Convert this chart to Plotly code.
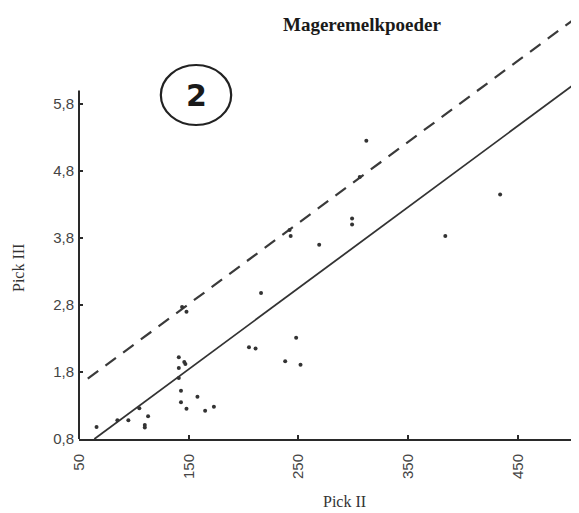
import plotly.graph_objects as go

# Scatter data (Pick II vs Pick III)
pick2 = [66, 85, 95, 105, 113, 110, 110, 141, 146, 147, 141, 141, 143, 143, 148, 158, 165, 173,
         205, 211, 148, 144, 216, 248, 238, 252, 242, 243, 269, 299, 299, 306, 312, 384, 434]
pick3 = [0.98, 1.08, 1.08, 1.26, 1.14, 1.01, 0.97, 2.02, 1.95, 1.92, 1.86, 1.71, 1.52, 1.35, 1.25, 1.43, 1.22, 1.28,
         2.17, 2.15, 2.70, 2.77, 2.98, 2.31, 1.96, 1.91, 3.92, 3.83, 3.70, 4.09, 4.00, 4.71, 5.25, 3.83, 4.45]

# Reference lines
solid_x = [64, 502]
solid_y = [0.80, 6.10]
dashed_x = [58, 501]
dashed_y = [1.70, 7.06]

# Axis ticks
x_ticks = [50, 150, 250, 350, 450]
x_ticklabels = ["50", "150", "250", "350", "450"]
y_ticks = [0.8, 1.8, 2.8, 3.8, 4.8, 5.8]
y_ticklabels = ["0,8", "1,8", "2,8", "3,8", "4,8", "5,8"]

fig = go.Figure()
fig.add_trace(go.Scatter(x=dashed_x, y=dashed_y, mode="lines",
                         line=dict(color="#3a3a3a", width=2.2, dash="13px,9px"), hoverinfo="skip"))
fig.add_trace(go.Scatter(x=solid_x, y=solid_y, mode="lines",
                         line=dict(color="#333333", width=1.8), hoverinfo="skip"))
fig.add_trace(go.Scatter(x=pick2, y=pick3, mode="markers",
                         marker=dict(color="#333333", size=4)))

fig.update_layout(
    width=579, height=513,
    margin=dict(l=71, r=9, t=0, b=82),
    paper_bgcolor="white", plot_bgcolor="white",
    showlegend=False,
    font=dict(family="Liberation Sans, Arial, sans-serif", color="#444444", size=14),
)
fig.update_xaxes(range=[50, 505], showgrid=False, zeroline=False, automargin=False,
                 showline=True, linecolor="#2a2a2a", linewidth=2,
                 tickvals=x_ticks, ticktext=x_ticklabels, tickangle=-90,
                 ticks="inside", ticklen=4, tickcolor="#2a2a2a", tickwidth=1.5,
                 ticklabelstandoff=7,
                 tickfont=dict(size=15, color="#444444"))
fig.update_yaxes(range=[0.8, 7.233], showgrid=False, zeroline=False, showline=False, automargin=False,
                 tickvals=y_ticks, ticktext=y_ticklabels,
                 ticks="inside", ticklen=4, tickcolor="#2a2a2a", tickwidth=1.5,
                 ticklabelstandoff=4,
                 tickfont=dict(size=15, color="#444444"))

# y axis line only up to ~6.0
fig.add_shape(type="line", xref="paper", yref="y", x0=0, x1=0, y0=0.8, y1=6.0,
              line=dict(color="#2a2a2a", width=2))

# circled "2"
fig.add_shape(type="circle", xref="paper", yref="paper",
              x0=0.164, x1=0.305, y0=0.7285, y1=0.8677,
              line=dict(color="#222222", width=2.2))
fig.add_annotation(text="<b>2</b>", xref="paper", yref="paper", x=0.2345, y=0.798,
                   xanchor="center", yanchor="middle",
                   showarrow=False, font=dict(family="DejaVu Sans, sans-serif", size=30, color="#1a1a1a"))

fig.add_annotation(text="<b>Mageremelkpoeder</b>", xref="paper", yref="paper", x=0.567, y=0.9606,
                   xanchor="center", yanchor="middle",
                   showarrow=False, font=dict(family="Liberation Serif, serif", size=19, color="#1a1a1a"))
fig.add_annotation(text="Pick II", xref="paper", yref="paper", x=0.533, y=-0.146,
                   xanchor="center", yanchor="middle",
                   showarrow=False, font=dict(family="Liberation Serif, serif", size=16, color="#333333"))
fig.add_annotation(text="Pick III", xref="paper", yref="paper", x=-0.120, y=0.397, textangle=-90,
                   xanchor="center", yanchor="middle",
                   showarrow=False, font=dict(family="Liberation Serif, serif", size=16, color="#333333"))

fig.write_html("out.html")
